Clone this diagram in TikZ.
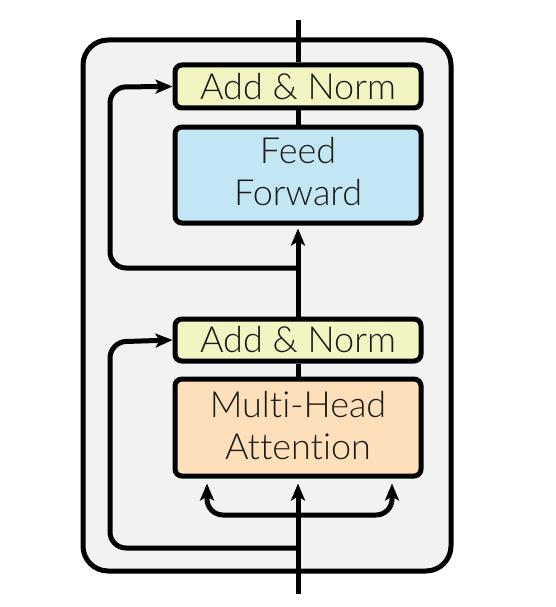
\documentclass[tikz,border=0pt]{standalone}
\usepackage{fontspec}
\setmainfont{Lato Light}[Ligatures={NoCommon,NoRare}]
\usetikzlibrary{arrows.meta}
\definecolor{yelc}{HTML}{F2F4C2}
\definecolor{bluc}{HTML}{C3E6F5}
\definecolor{pchc}{HTML}{FDDFBA}
\definecolor{bgc}{HTML}{F2F2F2}
\definecolor{txc}{HTML}{1A1A1A}
\begin{document}
\begin{tikzpicture}[x=1pt,y=-1pt,line width=5pt,
  blk/.style={draw=black, rounded corners=7pt, minimum width=246pt, inner sep=0pt,
    align=center, font=\fontsize{36}{42}\selectfont, text=txc},
  arr/.style={-{Stealth[length=17pt,width=14pt,inset=4pt]}},
  lp/.style={rounded corners=16pt}]
\useasboundingbox (0,0) rectangle (555,607);
\draw[fill=bgc, rounded corners=25pt] (83,40) rectangle (451,571);
\coordinate (top) at (298,20);
\coordinate (bot) at (298,594);
\coordinate (j2) at (298,268);
\coordinate (j1) at (298,548);
\coordinate (f) at (298,515);
\node[blk, fill=yelc, minimum height=43pt] (an2) at (298,86.5) {Add \& Norm};
\node[blk, fill=bluc, minimum height=96pt] (ff) at (298,175) {Feed\\Forward\rule[-8pt]{0pt}{0pt}};
\node[blk, fill=yelc, minimum height=42pt] (an1) at (298,340) {Add \& Norm};
\node[blk, fill=pchc, minimum height=97pt] (mha) at (298,427.5) {Multi-Head\\Attention\rule[-5pt]{0pt}{0pt}};
% main line
\draw[arr, shorten >=5pt] (bot) -- (mha.south);
\draw (mha.north) -- (an1.south);
\draw[arr, shorten >=3pt] (an1.north) -- (ff.south);
\draw (ff.north) -- (an2.south);
\draw (an2.north) -- (top);
% residual loops
\draw[arr, lp] (j2) -| (110,87) -- (an2.west);
\draw[arr, lp] (j1) -| (110,342) -- (an1.west);
% fork
\draw[arr, lp, shorten >=5pt] (f) -| ([xshift=-91pt]mha.south);
\draw[arr, lp, shorten >=5pt] (f) -| ([xshift=94pt]mha.south);
\end{tikzpicture}
\end{document}
